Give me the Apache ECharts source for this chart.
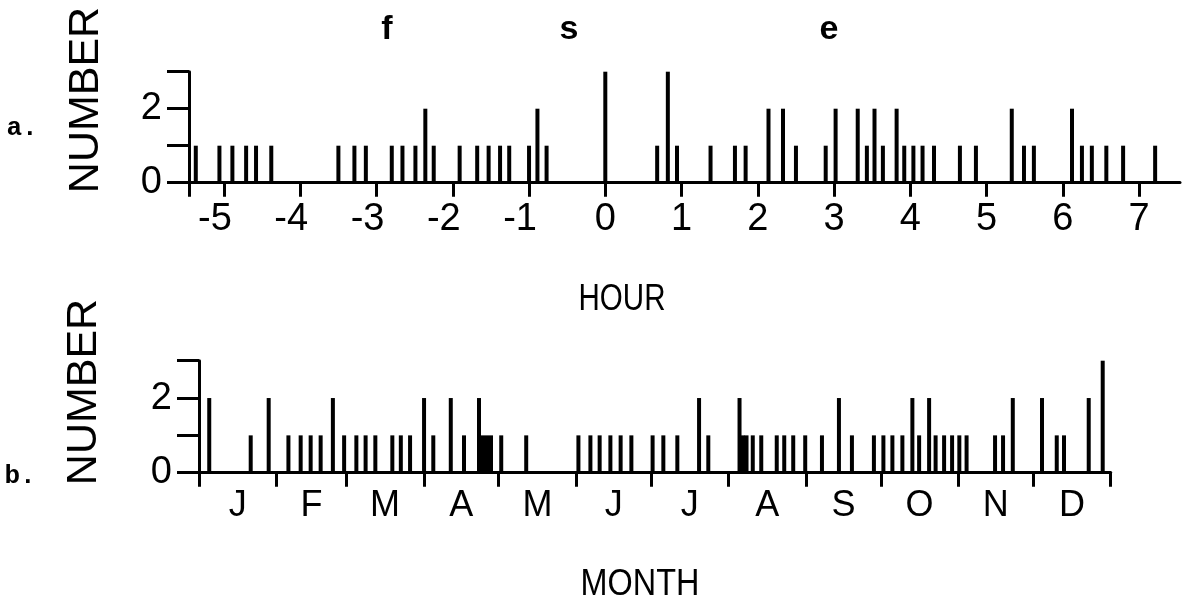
<!DOCTYPE html>
<html><head><meta charset="utf-8">
<script src="https://cdn.jsdelivr.net/npm/echarts@6/dist/echarts.min.js"></script>
<style>html,body{margin:0;padding:0;background:#fff}#c{width:1183px;height:614px}</style>
</head><body><div id="c"></div>
<script>
// ---- panel a: hour relative to event ----
const hourTicks = [-5,-4,-3,-2,-1,0,1,2,3,4,5,6,7];
const hourX = [-5.37,-5.06,-4.89,-4.71,-4.58,-4.38,-3.50,-3.29,-3.14,-2.80,-2.66,-2.49,-2.36,-2.25,
  -1.91,-1.68,-1.53,-1.38,-1.26,-1.00,-0.89,-0.77,0.00,0.68,0.82,0.94,1.38,1.70,1.84,2.14,2.33,2.50,
  2.89,3.02,3.31,3.43,3.53,3.64,3.82,3.92,4.04,4.16,4.31,4.65,4.86,5.33,5.49,5.62,6.12,6.25,6.38,6.57,6.79,7.21];
const hourN = [1,1,1,1,1,1,1,1,1,1,1,1,2,1,
  1,1,1,1,1,1,2,1,3,1,3,1,1,1,1,2,2,1,
  1,2,2,1,2,1,2,1,1,1,1,1,1,2,1,1,2,1,1,1,1,1];
// ---- panel b: day of year ----
const monthNames = ['J','F','M','A','M','J','J','A','S','O','N','D'];
const monthStarts = [0,31,59,90,120,151,181,212,243,273,304,334,365];
const dayX = [4.1,20.7,27.9,35.8,40.7,44.7,48.7,53.6,58.1,63.0,66.7,70.6,77.4,80.8,84.5,90.1,93.8,100.8,106.1,
  112.1,113.7,115.3,116.9,121.0,131.0,151.9,156.7,160.4,164.7,168.8,173.1,181.6,185.9,191.5,200.2,203.9,
  216.4,217.8,219.2,221.7,225.1,231.3,234.3,237.9,242.7,249.4,256.2,261.4,270.2,274.0,277.6,281.6,285.6,
  288.3,292.3,294.9,298.3,301.5,304.4,307.3,318.7,321.9,325.8,337.5,343.4,346.3,356.2,361.8];
const dayN = [2,1,2,1,1,1,1,2,1,1,1,1,1,1,1,2,1,2,1,
  2,1,1,1,1,1,1,1,1,1,1,1,1,1,1,2,1,
  2,1,1,1,1,1,1,1,1,1,2,1,1,1,1,1,2,
  1,2,1,1,1,1,1,1,1,2,2,1,1,2,3];
const yLabelsShown = [0,2];

const FONT = 'Liberation Sans';
const monthMids = monthNames.map((m,i)=>(monthStarts[i]+monthStarts[i+1])/2);
const HMIN = -5.459, HMAX = 7.536;

const chart = echarts.init(document.getElementById('c'), null, {renderer:'canvas'});
const axisLine = {show:true, onZero:false, lineStyle:{color:'#000', width:3}};
const yAxisCommon = {
  type:'value', min:0, max:3, interval:1,
  axisLine: axisLine,
  axisTick:{show:true, inside:false, length:22, lineStyle:{color:'#000', width:3}},
  axisLabel:{color:'#000', fontFamily:FONT, fontSize:38, margin:27,
    formatter: v => yLabelsShown.indexOf(v) >= 0 ? String(v) : ''},
  splitLine:{show:false}
};
function txt(x, y, text, font, extra) {
  return Object.assign({type:'text', x:x, y:y,
    style:{text:text, font:font, fill:'#000', textAlign:'center', textVerticalAlign:'middle'}}, extra || {});
}
chart.setOption({
  animation:false,
  backgroundColor:'#fff',
  grid:[
    {left:189, top:71.7, width:991, height:111},
    {left:199, top:360.7, width:911.7, height:112}
  ],
  xAxis:[
    {type:'value', gridIndex:0, min:HMIN, max:HMAX,
      axisLine:axisLine,
      axisTick:{show:true, length:14, lineStyle:{color:'#000', width:3}, customValues:[HMIN].concat(hourTicks)},
      axisLabel:{color:'#000', fontFamily:FONT, fontSize:38, margin:18, customValues:hourTicks,
        formatter: v => v < 0 ? '{n|-' + Math.abs(v) + '}' : String(v),
        rich:{n:{fontFamily:FONT, fontSize:38, color:'#000', padding:[0,18,0,0]}}},
      splitLine:{show:false}},
    {type:'value', gridIndex:1, min:0, max:365,
      axisLine:axisLine,
      axisTick:{show:true, length:14, lineStyle:{color:'#000', width:3}, customValues:monthStarts},
      axisLabel:{color:'#000', fontFamily:FONT, fontSize:36, margin:15, customValues:monthMids,
        formatter: v => { const i = monthMids.indexOf(v); return i >= 0 ? monthNames[i] : ''; }},
      splitLine:{show:false}}
  ],
  yAxis:[
    Object.assign({gridIndex:0}, yAxisCommon),
    Object.assign({gridIndex:1}, yAxisCommon)
  ],
  series:[
    {type:'bar', xAxisIndex:0, yAxisIndex:0, barWidth:4, itemStyle:{color:'#000'},
      data: hourX.map((x,i)=>[x, hourN[i]])},
    {type:'bar', xAxisIndex:1, yAxisIndex:1, barWidth:4, itemStyle:{color:'#000'},
      data: dayX.map((x,i)=>[x, dayN[i]])}
  ],
  graphic:[
    txt(86, 100, 'NUMBER', '43px "'+FONT+'"', {rotation:Math.PI/2}),
    txt(84, 392, 'NUMBER', '43px "'+FONT+'"', {rotation:Math.PI/2}),
    txt(22, 128, 'a.', 'bold 26px "Liberation Mono"'),
    txt(20, 476, 'b.', 'bold 26px "Liberation Mono"'),
    txt(387, 30, 'f', 'bold 34px "'+FONT+'"'),
    txt(569, 30, 's', 'bold 34px "'+FONT+'"'),
    txt(829, 30, 'e', 'bold 34px "'+FONT+'"'),
    txt(622, 300, 'HOUR', '36px "'+FONT+'"', {scaleX:0.82}),
    txt(640, 585, 'MONTH', '36px "'+FONT+'"', {scaleX:0.9})
  ]
});
</script></body></html>
